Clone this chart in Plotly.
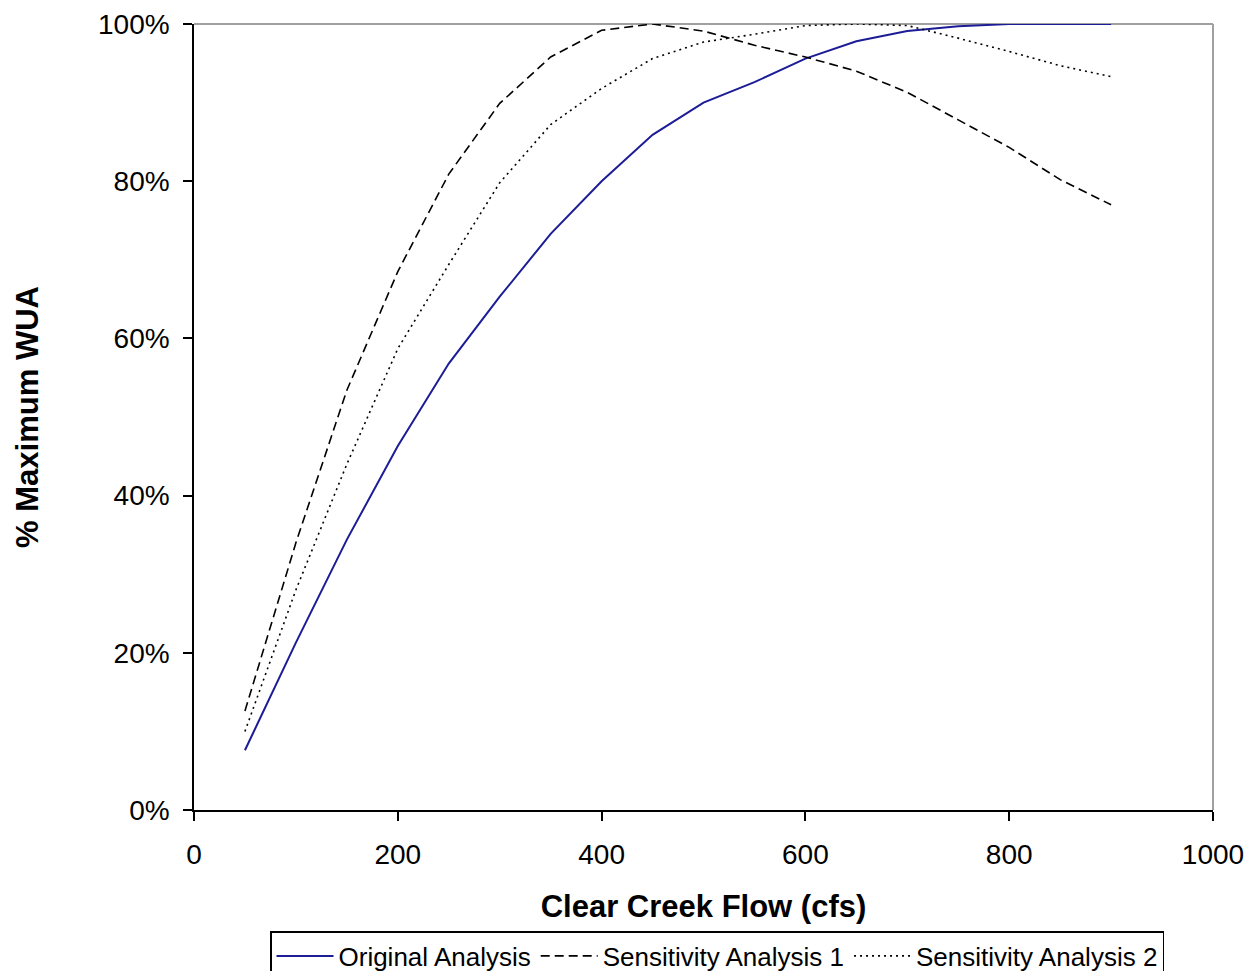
import plotly.graph_objects as go

flow_cfs = [50, 100, 150, 200, 250, 300, 350, 400, 450, 500, 550, 600, 650, 700, 750, 800, 850, 900]
original_analysis = [7.6, 21.3, 34.4, 46.3, 56.8, 65.3, 73.3, 80.0, 85.9, 90.0, 92.6, 95.6, 97.8, 99.1, 99.7, 100, 100, 100]
sensitivity_1 = [12.6, 34.0, 53.4, 68.5, 80.9, 89.9, 95.8, 99.2, 100, 99.1, 97.3, 95.8, 94.0, 91.3, 87.8, 84.3, 80.2, 77.0]
sensitivity_2 = [10.0, 28.0, 44.0, 58.7, 69.4, 79.8, 87.2, 91.8, 95.6, 97.7, 98.7, 99.8, 100, 99.8, 98.2, 96.5, 94.7, 93.3]

x_ticks = [0, 200, 400, 600, 800, 1000]
y_ticks = [0, 20, 40, 60, 80, 100]
y_tick_labels = ["0%", "20%", "40%", "60%", "80%", "100%"]

fig = go.Figure()
fig.add_trace(go.Scatter(x=flow_cfs, y=original_analysis, mode="lines", name="Original Analysis",
                         line=dict(color="#1c1c96", width=2)))
fig.add_trace(go.Scatter(x=flow_cfs, y=sensitivity_1, mode="lines", name="Sensitivity Analysis 1",
                         line=dict(color="black", width=1.6, dash="9px,5px")))
fig.add_trace(go.Scatter(x=flow_cfs, y=sensitivity_2, mode="lines", name="Sensitivity Analysis 2",
                         line=dict(color="black", width=1.6, dash="2px,4px")))

font_family = "Liberation Sans, Arial, sans-serif"

fig.update_layout(
    width=1256, height=971,
    margin=dict(l=194, r=43, t=24, b=161, autoexpand=False),
    paper_bgcolor="white", plot_bgcolor="white",
    font=dict(family=font_family, color="black", size=28),
    showlegend=True,
    legend=dict(orientation="h", x=270 / 1256, xref="container", xanchor="left",
                y=(971 - 931) / 971, yref="container", yanchor="top",
                bordercolor="black", borderwidth=1.5, bgcolor="white",
                font=dict(size=26, family=font_family), itemwidth=57,
                tracegroupgap=0),
    xaxis=dict(range=[0, 1000], tickvals=x_ticks, showgrid=False, zeroline=False,
               showline=True, linecolor="black", linewidth=1.5,
               ticks="outside", ticklen=9, tickcolor="black", tickwidth=1.5,
               tickfont=dict(size=28), ticklabelstandoff=10, automargin=False,
               title=dict(text="<b>Clear Creek Flow (cfs)</b>", font=dict(size=31), standoff=26)),
    yaxis=dict(range=[0, 100], tickvals=y_ticks, ticktext=y_tick_labels, showgrid=False, zeroline=False,
               showline=True, linecolor="black", linewidth=1.5,
               ticks="outside", ticklen=9, tickcolor="black", tickwidth=1.5,
               tickfont=dict(size=28), ticklabelstandoff=8, automargin=False,
               title=dict(text="<b>% Maximum WUA</b>", font=dict(size=31), standoff=50)),
    shapes=[
        dict(type="line", xref="paper", yref="paper", x0=0, x1=1, y0=1, y1=1,
             line=dict(color="#a0a0a0", width=2), layer="below"),
        dict(type="line", xref="paper", yref="paper", x0=1, x1=1, y0=0, y1=1,
             line=dict(color="#a0a0a0", width=2), layer="below"),
    ],
)

fig.write_html("out.html")
